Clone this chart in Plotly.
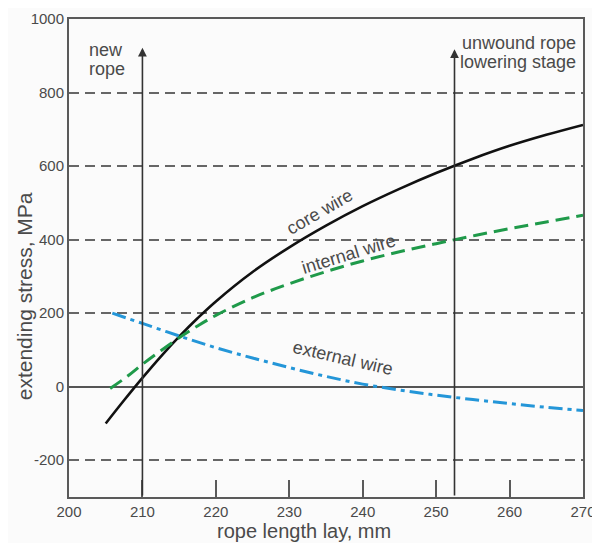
import plotly.graph_objects as go

# ---- data ----
core_x = [205, 207.5, 210, 212.5, 215, 217.5, 220, 225, 230, 235, 240, 245, 250, 255, 260, 265, 270]
core_y = [-100, -37, 24, 82, 136, 186, 232, 312, 379, 438, 491, 538, 581, 620, 655, 685, 712]

internal_x = [205.6, 208, 210, 212.5, 215, 217.5, 220, 225, 230, 235, 240, 245, 250, 255, 260, 265, 270]
internal_y = [-5, 29, 61, 98, 133, 165, 194, 242, 280, 313, 342, 367, 389, 410, 430, 448, 466]

external_x = [205.9, 210, 215, 220, 225, 230, 235, 240, 245, 250, 255, 260, 265, 270]
external_y = [200, 172, 138, 106, 78, 52, 28, 7, -9, -23, -35, -46, -56, -65]

stage_x = [210, 252.5]          # vertical arrows
stage_top = [922, 918]
y_ticks = [-200, 0, 200, 400, 600, 800, 1000]
y_tick_text = ["-200", "0", "200", "400", "600", "800", "1000"]
x_ticks = [200, 210, 220, 230, 240, 250, 260, 270]

FONT = "Liberation Sans, Arial, sans-serif"
TXT = "#4a4a4a"
AX = "#5a5a5a"

fig = go.Figure()
fig.add_trace(go.Scatter(x=core_x, y=core_y, mode="lines", line=dict(color="#111111", width=2.6, shape="spline"),
                         name="core wire", showlegend=False))
fig.add_trace(go.Scatter(x=internal_x, y=internal_y, mode="lines",
                         line=dict(color="#1f9a4a", width=3, dash="14px,7px", shape="spline"),
                         name="internal wire", showlegend=False))
fig.add_trace(go.Scatter(x=external_x, y=external_y, mode="lines",
                         line=dict(color="#2496d8", width=3, dash="14px,5px,4px,5px", shape="spline"),
                         name="external wire", showlegend=False))

# vertical arrows
for sx, st in zip(stage_x, stage_top):
    fig.add_annotation(x=sx, y=st, ax=sx, ay=-300, xref="x", yref="y", axref="x", ayref="y",
                       showarrow=True, arrowhead=2, arrowsize=1.1, arrowwidth=1.6, arrowcolor="#333333", text="")

lab = dict(family=FONT, size=18, color=TXT)
# curve labels
fig.add_annotation(x=234.1, y=476, text="core wire", showarrow=False, textangle=-30, font=lab)
fig.add_annotation(x=238.1, y=362, text="internal wire", showarrow=False, textangle=-17, font=lab)
fig.add_annotation(x=237.3, y=79, text="external wire", showarrow=False, textangle=13, font=lab)
# stage labels (one annotation per line for tight spacing)
fig.add_annotation(x=202.4, y=915, text="new", showarrow=False, xanchor="left", font=lab)
fig.add_annotation(x=202.4, y=863, text="rope", showarrow=False, xanchor="left", font=lab)
fig.add_annotation(x=269.3, y=934, text="unwound rope", showarrow=False, xanchor="right", font=lab)
fig.add_annotation(x=269.3, y=882, text="lowering stage", showarrow=False, xanchor="right", font=lab)

# axis titles
fig.add_annotation(xref="paper", yref="paper", x=0.457, y=-0.071, xanchor="center", yanchor="middle",
                   text="rope length lay, mm", showarrow=False, font=dict(family=FONT, size=20, color=TXT))
fig.add_annotation(xref="paper", yref="paper", x=-0.0875, y=0.42, xanchor="center", yanchor="middle",
                   text="extending stress, MPa", showarrow=False, textangle=-90,
                   font=dict(family=FONT, size=21, color=TXT))

fig.update_layout(
    width=592, height=535,
    margin=dict(l=61, r=17, t=11, b=46),
    paper_bgcolor="#fbfbfb", plot_bgcolor="#fbfbfb",
    font=dict(family=FONT, size=14, color=TXT),
    showlegend=False,
)
fig.update_xaxes(range=[200, 270], tickvals=x_ticks, ticks="inside", ticklen=17, tickwidth=2, tickcolor=AX,
                 showline=True, linecolor=AX, linewidth=2, mirror=True, showgrid=False, zeroline=False,
                 automargin=False, tickfont=dict(size=15, color=TXT))
fig.update_yaxes(range=[-300, 1000], tickvals=y_ticks, ticktext=y_tick_text, ticks="", showline=True,
                 linecolor=AX, linewidth=2, automargin=False,
                 mirror=True, showgrid=True, gridcolor="#666666", gridwidth=1.6, griddash="10px,6px",
                 zeroline=True, zerolinecolor="#555555", zerolinewidth=1.8,
                 tickfont=dict(size=15, color=TXT))

fig.write_html("out.html")
